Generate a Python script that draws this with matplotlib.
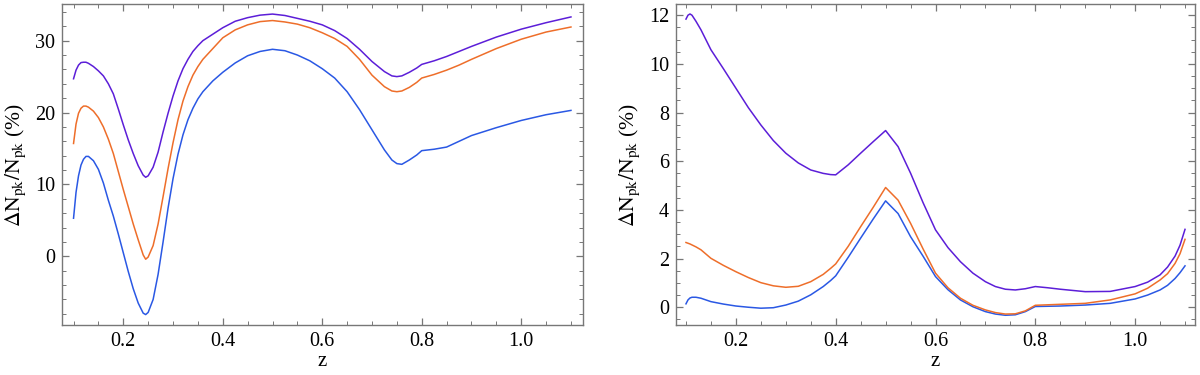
import matplotlib
matplotlib.use("Agg")
import matplotlib.pyplot as plt
from matplotlib.ticker import MultipleLocator

# ---- data: left panel ----
z_left = [0.100, 0.105, 0.110, 0.115, 0.120, 0.125, 0.130,
          0.140, 0.150, 0.160, 0.170, 0.180, 0.190, 0.200,
          0.210, 0.220, 0.230, 0.240, 0.245, 0.250,
          0.260, 0.270, 0.280, 0.290, 0.300,
          0.310, 0.320, 0.330, 0.340, 0.350, 0.360,
          0.380, 0.400,
          0.425, 0.450, 0.475, 0.500,
          0.525, 0.550, 0.575, 0.600,
          0.625, 0.650, 0.675, 0.700,
          0.725, 0.740, 0.750, 0.760,
          0.775, 0.790, 0.800,
          0.825, 0.850, 0.875, 0.900,
          0.950, 1.000, 1.050, 1.100]
left_purple = [24.7, 25.9, 26.6, 26.95, 27.0, 27.0, 26.85,
               26.4, 25.8, 25.1, 24.0, 22.6, 20.5, 18.3,
               16.2, 14.3, 12.6, 11.3, 11.0, 11.2,
               12.4, 14.5, 17.3, 19.9, 22.3,
               24.4, 26.1, 27.4, 28.5, 29.3, 30.0,
               30.9, 31.8,
               32.7, 33.2, 33.55, 33.7,
               33.5, 33.1, 32.7, 32.2,
               31.4, 30.3, 28.8, 27.1,
               25.7, 25.1, 25.0, 25.1,
               25.6, 26.2, 26.7,
               27.2, 27.8, 28.5, 29.2,
               30.5, 31.6, 32.5, 33.3]
left_orange = [15.7, 18.4, 19.9, 20.6, 20.9, 20.9, 20.75,
               20.2, 19.3, 18.0, 16.3, 14.3, 11.8, 9.3,
               6.9, 4.5, 2.3, 0.2, -0.4, -0.1,
               1.5, 4.5, 8.3, 12.2, 15.8,
               19.0, 21.6, 23.6, 25.2, 26.4, 27.4,
               28.9, 30.4,
               31.5, 32.2, 32.65, 32.8,
               32.6, 32.3, 31.8, 31.1,
               30.3, 29.2, 27.4, 25.2,
               23.6, 23.0, 22.9, 23.0,
               23.5, 24.2, 24.8,
               25.3, 25.9, 26.6, 27.4,
               28.9, 30.2, 31.2, 31.9]
left_blue = [5.3, 8.9, 11.2, 12.7, 13.5, 13.9, 13.9,
             13.3, 12.1, 10.2, 7.8, 5.6, 3.1, 0.5,
             -2.1, -4.5, -6.5, -7.9, -8.1, -7.8,
             -6.0, -2.5, 2.0, 6.7, 10.8,
             14.2, 16.9, 19.0, 20.6, 21.9, 22.9,
             24.4, 25.6,
             26.9, 27.9, 28.5, 28.8,
             28.6, 28.0, 27.2, 26.1,
             24.8, 22.9, 20.4, 17.6,
             14.8, 13.4, 12.9, 12.8,
             13.4, 14.1, 14.7,
             14.9, 15.2, 16.0, 16.8,
             17.9, 18.9, 19.7, 20.3]

# ---- data: right panel ----
z_right = [0.100, 0.104, 0.108, 0.112, 0.120, 0.130,
           0.150, 0.175, 0.200, 0.225, 0.250,
           0.275, 0.300, 0.325, 0.350, 0.375,
           0.390, 0.400,
           0.425, 0.450, 0.475, 0.500,
           0.525, 0.550, 0.575, 0.600,
           0.625, 0.650, 0.675, 0.700,
           0.720, 0.740, 0.760, 0.780, 0.800,
           0.825, 0.850, 0.900, 0.950, 1.000,
           1.025, 1.050, 1.065, 1.080, 1.090, 1.100]
right_purple = [11.84, 12.0, 12.05, 12.0, 11.75, 11.4,
                10.58, 9.8, 9.0, 8.2, 7.49,
                6.85, 6.33, 5.93, 5.64, 5.5,
                5.45, 5.44,
                5.85, 6.33, 6.8, 7.26,
                6.6, 5.51, 4.3, 3.18,
                2.45, 1.87, 1.4, 1.05,
                0.85, 0.74, 0.71, 0.76, 0.85,
                0.8, 0.74, 0.64, 0.65, 0.85,
                1.03, 1.33, 1.65, 2.1, 2.55, 3.2]
right_orange = [2.66, 2.63, 2.6, 2.56, 2.48, 2.36,
                2.01, 1.72, 1.46, 1.22, 1.01,
                0.88, 0.82, 0.86, 1.05, 1.35,
                1.6, 1.78,
                2.5, 3.31, 4.1, 4.92,
                4.4, 3.45, 2.4, 1.40,
                0.8, 0.37, 0.08, -0.11,
                -0.22, -0.28, -0.27, -0.15, 0.08,
                0.1, 0.12, 0.16, 0.30, 0.55,
                0.78, 1.12, 1.38, 1.8, 2.2, 2.79]
right_blue = [0.14, 0.3, 0.38, 0.41, 0.41, 0.37,
              0.23, 0.13, 0.05, 0.0, -0.04,
              -0.02, 0.09, 0.25, 0.51, 0.85,
              1.1, 1.29,
              2.05, 2.84, 3.62, 4.37,
              3.85, 2.90, 2.1, 1.26,
              0.72, 0.30, 0.02, -0.18,
              -0.28, -0.33, -0.31, -0.18, 0.03,
              0.04, 0.05, 0.09, 0.16, 0.34,
              0.5, 0.71, 0.9, 1.18, 1.42, 1.70]

x_ticks = [0.2, 0.4, 0.6, 0.8, 1.0]
x_ticklabels = ["0.2", "0.4", "0.6", "0.8", "1.0"]
left_yticks = [0, 10, 20, 30]
right_yticks = [0, 2, 4, 6, 8, 10, 12]

C_PURPLE = "#5c1ed8"
C_ORANGE = "#ee6e2a"
C_BLUE = "#2a58e4"
FRAME = "#777777"

plt.rcParams["font.family"] = ["Liberation Serif", "DejaVu Serif"]
plt.rcParams["mathtext.fontset"] = "stix"

fig = plt.figure(figsize=(12, 3.75), dpi=100)
ax1 = fig.add_axes([62 / 1200, 50 / 375, 520.7 / 1200, 321 / 375])
ax2 = fig.add_axes([676 / 1200, 50 / 375, 519 / 1200, 321 / 375])

ylabel = r"$\Delta\mathrm{N}_{\mathrm{pk}}/\mathrm{N}_{\mathrm{pk}}$ (%)"

def style(ax, yticks, ymin_minor):
    for s in ax.spines.values():
        s.set_color(FRAME)
        s.set_linewidth(1.0)
    ax.set_xticks(x_ticks)
    ax.set_xticklabels(x_ticklabels)
    ax.set_yticks(yticks)
    ax.xaxis.set_minor_locator(MultipleLocator(0.05))
    ax.yaxis.set_minor_locator(MultipleLocator(ymin_minor))
    ax.tick_params(which="both", direction="in", top=True, right=True,
                   color=FRAME, labelsize=14.5, pad=5)
    ax.tick_params(which="major", length=5, width=0.9)
    ax.tick_params(which="minor", length=3, width=0.7)
    ax.set_xlabel("z", fontsize=15, labelpad=1)
    ax.set_ylabel(ylabel, fontsize=15.5, labelpad=5)

for y, c in [(left_blue, C_BLUE), (left_orange, C_ORANGE), (left_purple, C_PURPLE)]:
    ax1.plot(z_left, y, color=c, lw=1.1)
ax1.set_xlim(0.0768, 1.1236)
ax1.set_ylim(-9.55, 35.1)
style(ax1, left_yticks, 2)

for y, c in [(right_blue, C_BLUE), (right_orange, C_ORANGE), (right_purple, C_PURPLE)]:
    ax2.plot(z_right, y, color=c, lw=1.1)
ax2.set_xlim(0.08, 1.12)
ax2.set_ylim(-0.73, 12.46)
style(ax2, right_yticks, 0.5)

fig.savefig("out.png", dpi=100)
